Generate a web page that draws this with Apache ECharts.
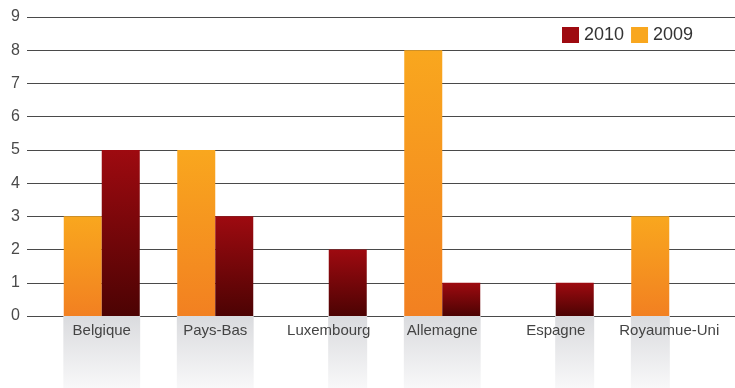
<!DOCTYPE html>
<html>
<head>
<meta charset="utf-8">
<script src="https://cdn.jsdelivr.net/npm/echarts@6/dist/echarts.min.js"></script>
<style>
  html, body { margin: 0; padding: 0; background: #ffffff; }
  #chart { width: 735px; height: 388px; }
</style>
</head>
<body>
<div id="chart"></div>
<script>
// Countries and counts per year
const categories = ['Belgique', 'Pays-Bas', 'Luxembourg', 'Allemagne', 'Espagne', 'Royaumue-Uni'];
const values2009 = [3, 5, 0, 8, 0, 3];
const values2010 = [5, 3, 2, 1, 1, 0];
const yTicks = [0, 1, 2, 3, 4, 5, 6, 7, 8, 9];

const FONT = '"Liberation Sans", Arial, Helvetica, sans-serif';
const G = echarts.graphic;

const orangeFill = new G.LinearGradient(0, 0, 0, 1, [
  { offset: 0, color: '#F9A71E' },
  { offset: 1, color: '#F28021' }
]);
const redFill = new G.LinearGradient(0, 0, 0, 1, [
  { offset: 0, color: '#9E0A10' },
  { offset: 1, color: '#4C0303' }
]);
const shadeFill = new G.LinearGradient(0, 0, 0, 1, [
  { offset: 0, color: '#DADBDE' },
  { offset: 1, color: '#F8F8F9' }
]);

// Floor shading under each drawn bar
const shade2009 = values2009.map(v => (v > 0 ? 1 : 0));
const shade2010 = values2010.map(v => (v > 0 ? 1 : 0));

const chart = echarts.init(document.getElementById('chart'), null, { renderer: 'canvas' });

chart.setOption({
  animation: false,
  backgroundColor: '#ffffff',
  legend: {
    left: 557,
    top: 21,
    itemWidth: 17,
    itemHeight: 16,
    itemGap: 7,
    textStyle: { fontFamily: FONT, fontSize: 18, color: '#333333' },
    data: [
      { name: '2010', icon: 'rect', itemStyle: { color: '#9E0A10' } },
      { name: '2009', icon: 'rect', itemStyle: { color: '#F9A71E' } }
    ]
  },
  grid: [
    // horizontal rules with value labels
    { left: 27, right: 0, top: 17, height: 299 },
    // bars
    { left: 45, right: 9, top: 17, height: 299 },
    // floor shading and category names
    { left: 45, right: 9, top: 316, height: 72 }
  ],
  xAxis: [
    { gridIndex: 0, type: 'value', min: 0, max: 1, show: false },
    { gridIndex: 1, type: 'category', data: categories, show: false },
    {
      gridIndex: 2, type: 'category', data: categories, position: 'top', z: 10,
      axisLine: { show: false }, axisTick: { show: false },
      axisLabel: {
        inside: true, interval: 0, hideOverlap: false, margin: 7,
        fontFamily: FONT, fontSize: 15, color: '#444444', verticalAlign: 'top'
      }
    }
  ],
  yAxis: [
    {
      gridIndex: 0, type: 'value', min: 0, max: 9, interval: 1,
      axisLine: { show: false }, axisTick: { show: false },
      axisLabel: {
        margin: 7, fontFamily: FONT, fontSize: 16, color: '#4a4a4a',
        formatter: v => (yTicks.includes(v) ? String(v) : '')
      },
      splitLine: { show: true, lineStyle: { color: '#4a4a4a', width: 1 } }
    },
    { gridIndex: 1, type: 'value', min: 0, max: 9, interval: 1, show: false },
    { gridIndex: 2, type: 'value', min: 0, max: 1, inverse: true, show: false }
  ],
  series: [
    {
      name: '2009', type: 'bar', xAxisIndex: 1, yAxisIndex: 1,
      data: values2009, barWidth: 38, barGap: '0%', z: 3,
      itemStyle: { color: orangeFill }
    },
    {
      name: '2010', type: 'bar', xAxisIndex: 1, yAxisIndex: 1,
      data: values2010, barWidth: 38, barGap: '0%', z: 3,
      itemStyle: { color: redFill }
    },
    {
      name: 'shade2009', type: 'bar', xAxisIndex: 2, yAxisIndex: 2,
      data: shade2009, barWidth: 39, barGap: '-3%', z: 1, silent: true,
      itemStyle: { color: shadeFill }
    },
    {
      name: 'shade2010', type: 'bar', xAxisIndex: 2, yAxisIndex: 2,
      data: shade2010, barWidth: 39, barGap: '-3%', z: 1, silent: true,
      itemStyle: { color: shadeFill }
    }
  ]
});
</script>
</body>
</html>
